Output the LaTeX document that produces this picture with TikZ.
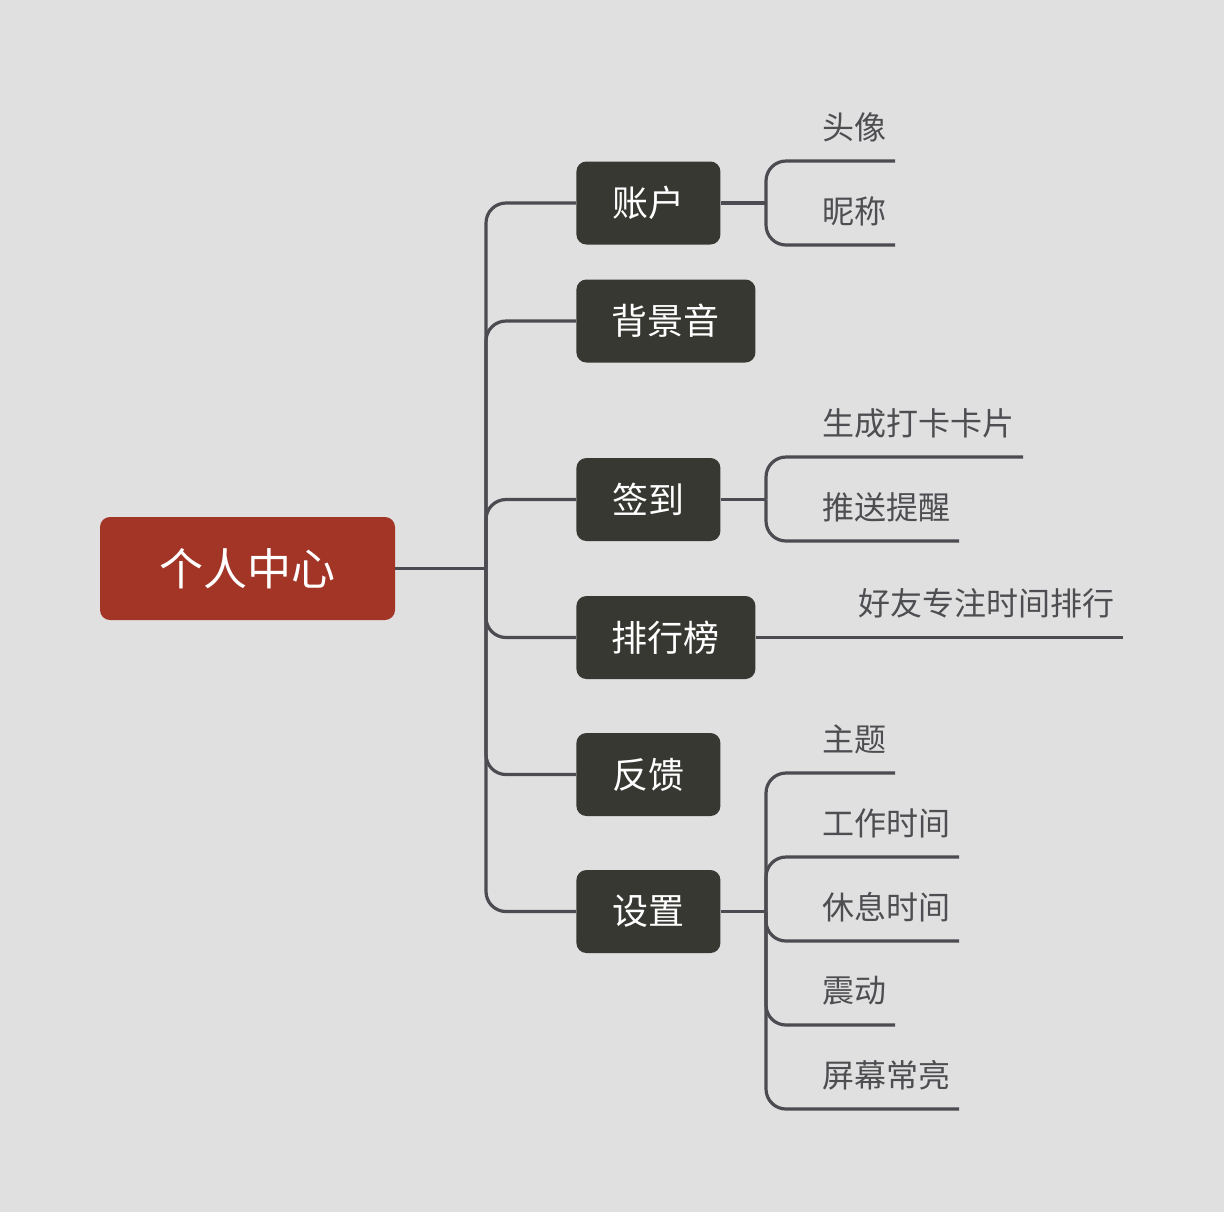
\documentclass[tikz,border=0pt]{standalone}
\usepackage{fontspec}
\setmainfont{Noto Sans CJK SC}
\usepackage{tikz}
\usetikzlibrary{positioning}

\definecolor{bgcol}{HTML}{E0E0E0}
\definecolor{rootred}{HTML}{A33527}
\definecolor{topicdark}{HTML}{383833}
\definecolor{linegray}{HTML}{4B4B51}
\definecolor{leaftext}{HTML}{4E4E52}

\begin{document}
\begin{tikzpicture}[
    x=0.5pt, y=-0.5pt,
    rootbox/.style={fill=rootred, text=white, rounded corners=5pt, minimum width=147.5pt, minimum height=51.5pt, inner sep=0pt, font=\fontsize{22pt}{26pt}\selectfont},
    topicbox/.style={fill=topicdark, text=white, rounded corners=5pt, minimum height=41.5pt, inner sep=0pt, anchor=west, font=\fontsize{18pt}{22pt}\selectfont},
    leaf/.style={text=leaftext, inner sep=0pt, anchor=west, font=\fontsize{16pt}{19pt}\selectfont},
    branch/.style={draw=linegray, line width=1.6pt, rounded corners=10pt}
]
\fill[bgcol] (0,0) rectangle (1224,1212);
\useasboundingbox (0,0) rectangle (1224,1212);

% Root
\node[rootbox] (root) at (247.5,568.5) {个人中心};
\coordinate (trunk) at (486,568.5);

% Main topics
\node[topicbox, minimum width=72pt] (zhanghu) at (576,203) {账户};
\node[topicbox, minimum width=89.5pt] (bjy) at (576,321) {背景音};
\node[topicbox, minimum width=72pt] (qiandao) at (576,499.5) {签到};
\node[topicbox, minimum width=89.5pt] (phb) at (576,637.5) {排行榜};
\node[topicbox, minimum width=72pt] (fankui) at (576,774.5) {反馈};
\node[topicbox, minimum width=72pt] (shezhi) at (576,911.5) {设置};

\draw[branch] (root.east) -- (trunk);
\foreach \t in {zhanghu,bjy,qiandao,phb,fankui,shezhi}
    \draw[branch] (trunk) |- (\t.west);

% Leaves of 账户
\coordinate (zhJ) at (766,203);
\node[leaf] (touxiang) at (822,127) {头像};
\node[leaf] (nicheng) at (822,211) {昵称};
\coordinate (touxiangE) at (895,161);
\coordinate (nichengE) at (895,245);
\draw[branch] (zhanghu.east) -- (zhJ);
\draw[branch] (zhJ) |- (touxiangE);
\draw[branch] (zhJ) |- (nichengE);

% Leaves of 签到
\coordinate (qdJ) at (766,499.5);
\node[leaf] (shengcheng) at (822,423) {生成打卡卡片};
\node[leaf] (tuisong) at (822,507) {推送提醒};
\coordinate (shengchengE) at (1023,457);
\coordinate (tuisongE) at (959,541);
\draw[branch] (qiandao.east) -- (qdJ);
\draw[branch] (qdJ) |- (shengchengE);
\draw[branch] (qdJ) |- (tuisongE);

% Leaf of 排行榜
\node[leaf] (haoyou) at (858,603) {好友专注时间排行};
\coordinate (haoyouE) at (1123,637.5);
\draw[branch] (phb.east) -- (haoyouE);

% Leaves of 设置
\coordinate (szJ) at (766,911.5);
\node[leaf] (zhuti) at (822,739) {主题};
\node[leaf] (gongzuo) at (822,823) {工作时间};
\node[leaf] (xiuxi) at (822,907) {休息时间};
\node[leaf] (zhendong) at (822,991) {震动};
\node[leaf] (pingmu) at (822,1075) {屏幕常亮};
\coordinate (zhutiE) at (895,773);
\coordinate (gongzuoE) at (959,857);
\coordinate (xiuxiE) at (959,941);
\coordinate (zhendongE) at (895,1025);
\coordinate (pingmuE) at (959,1109);
\draw[branch] (shezhi.east) -- (szJ);
\foreach \l in {zhutiE,gongzuoE,xiuxiE,zhendongE,pingmuE}
    \draw[branch] (szJ) |- (\l);

\end{tikzpicture}
\end{document}
